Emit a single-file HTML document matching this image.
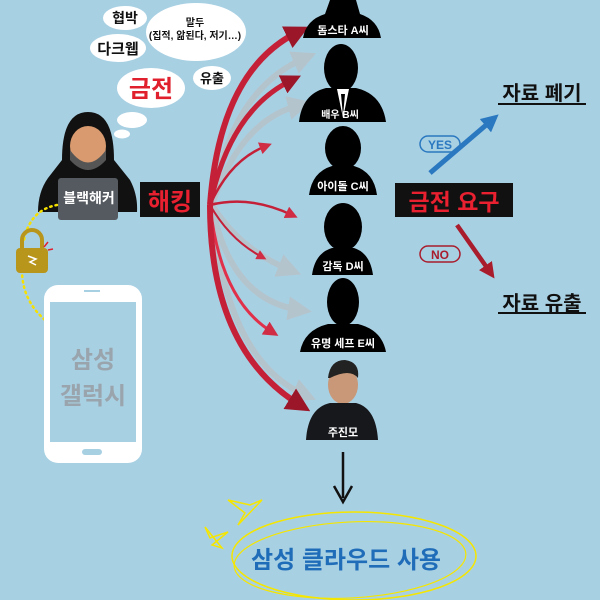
<!DOCTYPE html>
<html><head><meta charset="utf-8"><style>
html,body{margin:0;padding:0;width:600px;height:600px;overflow:hidden;background:#a8d0e3}
svg{display:block}
text{font-family:"Liberation Sans","Noto Sans CJK KR",sans-serif;font-weight:bold}
</style></head><body>
<svg width="600" height="600" viewBox="0 0 600 600" xmlns="http://www.w3.org/2000/svg">
<defs>
<marker id="ah" viewBox="0 0 10 10" refX="5" refY="5" markerWidth="4" markerHeight="4" orient="auto"><path d="M0,0L10,5L0,10z" fill="#9a1628"/></marker>
<marker id="ahs" viewBox="0 0 10 10" refX="5" refY="5" markerWidth="5" markerHeight="5" orient="auto"><path d="M0,0L10,5L0,10z" fill="#d02c44"/></marker>
<marker id="ag" viewBox="0 0 10 10" refX="5" refY="5" markerWidth="4" markerHeight="4" orient="auto"><path d="M0,0L10,5L0,10z" fill="#b8c2c8"/></marker>
<marker id="ab" viewBox="0 0 10 10" refX="5" refY="5" markerWidth="3.5" markerHeight="3.5" orient="auto"><path d="M0,0L10,5L0,10z" fill="#2a78c0"/></marker>
<marker id="ar" viewBox="0 0 10 10" refX="5" refY="5" markerWidth="3.5" markerHeight="3.5" orient="auto"><path d="M0,0L10,5L0,10z" fill="#a81c2c"/></marker>
</defs>
<rect width="600" height="600" fill="#a8d0e3"/>

<!-- thought bubbles -->
<ellipse cx="125" cy="18" rx="22" ry="12" fill="#fff"/>
<text x="125" y="23" font-size="14" text-anchor="middle" fill="#111">협박</text>
<ellipse cx="118" cy="48" rx="28" ry="14" fill="#fff"/>
<text x="118" y="54" font-size="15" text-anchor="middle" fill="#111">다크웹</text>
<ellipse cx="196" cy="32" rx="50" ry="29" fill="#fff"/>
<text x="195" y="26" font-size="10" text-anchor="middle" fill="#111" font-weight="normal">말두</text>
<text x="195" y="39" font-size="10" text-anchor="middle" fill="#111" font-weight="normal">(집적, 앎된다, 저기…)</text>
<ellipse cx="212" cy="78" rx="19" ry="12" fill="#fff"/>
<text x="212" y="83" font-size="13" text-anchor="middle" fill="#111">유출</text>
<ellipse cx="151" cy="88" rx="34" ry="20" fill="#fff"/>
<text x="151" y="97" font-size="24" text-anchor="middle" fill="#e0202c">금전</text>
<ellipse cx="132" cy="120" rx="15" ry="8" fill="#fff"/>
<ellipse cx="122" cy="134" rx="8" ry="4.5" fill="#fff"/>

<!-- hacker -->
<path d="M62,160 Q62,112 88,112 Q114,112 114,160 L130,180 Q138,195 137,212 L38,212 Q38,192 48,178 Z" fill="#111"/>
<ellipse cx="88" cy="146" rx="18" ry="20" fill="#d89a6e"/>
<path d="M70,150 Q88,175 106,150 L106,160 Q88,180 70,160Z" fill="#555"/>
<rect x="58" y="178" width="60" height="42" rx="3" fill="#555a60"/>
<text x="89" y="203" font-size="14" text-anchor="middle" fill="#fff">블랙해커</text>
<rect x="140" y="182" width="60" height="35" fill="#111"/>
<text x="170" y="210" font-size="24" text-anchor="middle" fill="#e82030">해킹</text>

<!-- dotted line + lock -->
<path d="M57,205 Q30,210 24,240 M22,270 Q22,300 45,320" stroke="#f5e000" stroke-width="2.5" stroke-dasharray="1.5 4" stroke-linecap="round" fill="none"/>
<path d="M22,248 V240 a10,10 0 0 1 20,0 V248" stroke="#b8961c" stroke-width="4" fill="none"/>
<rect x="16" y="248" width="32" height="25" rx="4" fill="#b8961c"/>
<path d="M28,256 l8,3 -6,3 6,3" stroke="#fff" stroke-width="1.5" fill="none"/>
<path d="M44,247 l4,-5 M48,250 l5,-1" stroke="#e02030" stroke-width="1.5"/>

<!-- phone -->
<rect x="44" y="285" width="98" height="178" rx="14" fill="#fff"/>
<rect x="50" y="302" width="86" height="140" fill="#a8d0e3"/>
<rect x="84" y="290" width="16" height="2" fill="#a8d0e3"/>
<rect x="82" y="449" width="20" height="6" rx="3" fill="#a8d0e3"/>
<text x="93" y="368" font-size="24" text-anchor="middle" fill="#9aa4ac">삼성</text>
<text x="93" y="404" font-size="24" text-anchor="middle" fill="#9aa4ac">갤럭시</text>

<!-- gray shadow arrows -->
<g stroke="#b8c2c8" fill="none" stroke-width="6" opacity="0.8">
<path d="M212,205 Q230,90 305,58" marker-end="url(#ag)"/>
<path d="M212,205 Q240,120 300,105" marker-end="url(#ag)"/>
<path d="M212,205 Q240,250 290,270" marker-end="url(#ag)"/>
<path d="M212,205 Q230,300 300,310" marker-end="url(#ag)"/>
<path d="M212,205 Q225,360 305,395" marker-end="url(#ag)"/>
</g>
<!-- red arrows -->
<g fill="none" stroke="#c42038">
<path d="M210,205 Q220,70 298,32" stroke-width="6" marker-end="url(#ah)"/>
<path d="M210,205 Q230,110 292,80" stroke-width="5" marker-end="url(#ah)"/>
<path d="M210,205 Q230,160 266,146" stroke-width="2.5" marker-end="url(#ahs)"/>
<path d="M210,205 Q250,195 292,215" stroke-width="2.5" marker-end="url(#ahs)"/>
<path d="M210,205 Q230,240 262,257" stroke-width="2" marker-end="url(#ahs)"/>
<path d="M210,205 Q220,300 272,332" stroke-width="3" stroke="#e0304a" marker-end="url(#ahs)"/>
<path d="M210,205 Q210,350 300,405" stroke-width="6" marker-end="url(#ah)"/>
</g>

<!-- silhouettes -->
<g fill="#000">
<path d="M303,38 Q306,20 325,14 L330,0 L356,0 L360,14 Q378,20 381,38 Z"/>
<ellipse cx="341" cy="68" rx="17" ry="24"/><path d="M299,122 Q302,94 326,88 L356,88 Q382,94 386,122Z"/>
<ellipse cx="343" cy="148" rx="18" ry="22"/><path d="M309,195 Q312,172 332,166 L354,166 Q374,172 377,195Z"/>
<ellipse cx="343" cy="227" rx="19" ry="24"/><path d="M312,275 Q315,253 332,248 L354,248 Q370,253 373,275Z"/>
<ellipse cx="343" cy="302" rx="16" ry="24"/><path d="M300,352 Q304,330 328,324 L358,324 Q382,330 386,352Z"/>
</g>
<path d="M337,89 L343,118 L349,89" fill="#fff"/><path d="M341,94 L343,116 L345,94" fill="#000"/>
<text x="343" y="34" font-size="11" text-anchor="middle" fill="#fff">돔스타 A씨</text>
<text x="340" y="118" font-size="10" text-anchor="middle" fill="#fff">배우 B씨</text>
<text x="343" y="190" font-size="11" text-anchor="middle" fill="#fff">아이돌 C씨</text>
<text x="343" y="270" font-size="11" text-anchor="middle" fill="#fff">감독 D씨</text>
<text x="343" y="347" font-size="11" text-anchor="middle" fill="#fff">유명 세프 E씨</text>
<!-- photo person -->
<ellipse cx="343" cy="385" rx="15" ry="19" fill="#c89878"/>
<path d="M328,378 Q330,360 345,360 Q360,362 358,378 Q350,368 330,378Z" fill="#222"/>
<path d="M306,440 Q308,408 330,403 L356,403 Q376,408 378,440Z" fill="#16181c"/>
<text x="343" y="436" font-size="11" text-anchor="middle" fill="#fff">주진모</text>

<!-- decision -->
<rect x="395" y="183" width="118" height="34" fill="#111"/>
<text x="454" y="210" font-size="23" text-anchor="middle" fill="#e82030">금전 요구</text>
<line x1="430" y1="173" x2="492" y2="120" stroke="#2a78c0" stroke-width="5" marker-end="url(#ab)"/>
<rect x="420" y="136" width="40" height="16" rx="8" fill="none" stroke="#2a78c0" stroke-width="1.5"/>
<text x="440" y="149" font-size="12" text-anchor="middle" fill="#2a78c0" font-weight="normal">YES</text>
<line x1="457" y1="225" x2="490" y2="272" stroke="#a81c2c" stroke-width="4.5" marker-end="url(#ar)"/>
<rect x="420" y="246" width="40" height="16" rx="8" fill="none" stroke="#a81c2c" stroke-width="1.5"/>
<text x="440" y="259" font-size="12" text-anchor="middle" fill="#a81c2c" font-weight="normal">NO</text>
<text x="542" y="100" font-size="20" text-anchor="middle" fill="#111">자료 폐기</text>
<rect x="498" y="103" width="88" height="2" fill="#111"/>
<text x="542" y="310" font-size="20" text-anchor="middle" fill="#111">자료 유출</text>
<rect x="498" y="312" width="88" height="2" fill="#111"/>

<!-- bottom -->
<line x1="343" y1="452" x2="343" y2="498" stroke="#111" stroke-width="2.5"/>
<path d="M334,486 L343,502 L352,486" stroke="#111" stroke-width="2.5" fill="none"/>
<ellipse cx="354" cy="556" rx="122" ry="44" fill="none" stroke="#f5e600" stroke-width="1.5"/>
<ellipse cx="350" cy="560" rx="116" ry="38" fill="none" stroke="#f5e600" stroke-width="1.2" transform="rotate(-3 350 560)"/>
<path d="M205,527 L222,548 L212,545 L228,532 L210,538Z M228,500 L245,513 L238,525 L262,500 L250,505Z" stroke="#f5e600" stroke-width="1.5" fill="none"/>
<text x="346" y="568" font-size="24" text-anchor="middle" fill="#1f6cb8">삼성 클라우드 사용</text>
</svg>
</body></html>
